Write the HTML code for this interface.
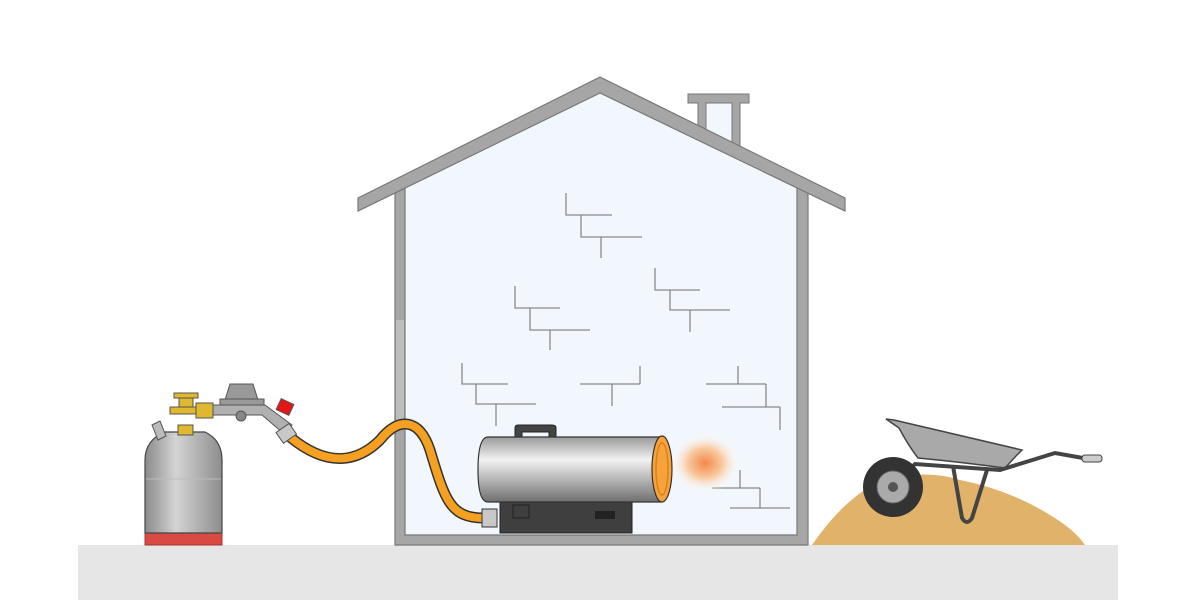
<!DOCTYPE html>
<html><head><style>html,body{margin:0;padding:0;background:#fff;}svg{display:block}</style></head>
<body>
<svg width="1200" height="600" viewBox="0 0 1200 600" xmlns="http://www.w3.org/2000/svg">
<defs>
<linearGradient id="cyl" x1="0" y1="0" x2="0" y2="1">
<stop offset="0" stop-color="#9a9a9a"/><stop offset="0.35" stop-color="#f2f2f2"/><stop offset="1" stop-color="#6f6f6f"/></linearGradient>
<linearGradient id="tank" x1="0" y1="0" x2="1" y2="0">
<stop offset="0" stop-color="#8a8a8a"/><stop offset="0.4" stop-color="#d4d4d4"/><stop offset="1" stop-color="#8d8d8d"/></linearGradient>
<radialGradient id="flame" cx="0.5" cy="0.5" r="0.5">
<stop offset="0" stop-color="#f28a4a"/><stop offset="0.5" stop-color="#f9c9a0"/><stop offset="1" stop-color="#fff" stop-opacity="0"/></radialGradient>
</defs>
<rect x="78" y="545" width="1040" height="55" fill="#e6e6e6"/>
<polygon points="405,186 600,91 797,186 797,535 405,535" fill="#f1f7fc"/>
<rect x="698" y="103" width="42" height="40" fill="#f1f7fc"/>
<path d="M688,94 H749 V103 H740 V150 L732,146 V103 H706 V135 L698,130 V103 H688 Z" fill="#a6a6a6" stroke="#777" stroke-width="1"/>
<polygon points="395,186 405,186 405,535 797,535 797,186 808,186 808,545 395,545" fill="#a6a6a6" stroke="#777" stroke-width="1.2"/>
<polygon points="358,198 600,77 845,198 845,211 600,93 358,211" fill="#a6a6a6" stroke="#777" stroke-width="1.2"/>
<rect x="396" y="320" width="8" height="110" fill="#bdbdbd"/>
<g stroke="#8a8a8a" stroke-width="1.3" fill="none">
<path d="M566,193 V215 H612 M581,215 V237 H642 M601,237 V258"/>
<path d="M655,268 V290 H700 M670,290 V310 H730 M690,310 V332"/>
<path d="M515,286 V308 H560 M530,308 V330 H590 M550,330 V350"/>
<path d="M462,363 V384 H508 M476,384 V404 H536 M496,404 V426"/>
<path d="M580,384 H640 M612,384 V406 M640,366 V384"/>
<path d="M706,384 H766 M738,366 V384 M722,407 H780 M766,384 V407 M780,407 V430"/>
<path d="M712,488 H760 M740,470 V488 M730,508 H790 M760,488 V508"/>
</g>
<ellipse cx="705" cy="463" rx="35" ry="30" fill="url(#flame)"/>
<path d="M515,438 V428 Q515,425 518,425 H552 Q556,425 556,428 V438 H549 V432 H522 V438 Z" fill="#444" stroke="#222"/>
<rect x="500" y="493" width="132" height="40" fill="#3f3f3f" stroke="#222"/>
<rect x="513" y="505" width="16" height="13" fill="none" stroke="#222"/>
<rect x="595" y="511" width="20" height="8" fill="#222"/>
<path d="M488,437 H662 V502 H488 Q478,502 478,470 Q478,437 488,437 Z" fill="url(#cyl)" stroke="#333" stroke-width="1.2"/>
<ellipse cx="662" cy="469" rx="10" ry="33" fill="#f7a23a" stroke="#333" stroke-width="1.2"/>
<ellipse cx="662" cy="469" rx="6" ry="26" fill="none" stroke="#d98419" stroke-width="1.5"/>
<path d="M290,437 C330,470 360,460 380,440 C400,415 420,420 430,450 C445,500 450,518 484,518" fill="none" stroke="#333" stroke-width="11"/>
<path d="M290,437 C330,470 360,460 380,440 C400,415 420,420 430,450 C445,500 450,518 484,518" fill="none" stroke="#f5a020" stroke-width="8"/>
<rect x="482" y="509" width="15" height="18" fill="#c8c8c8" stroke="#333"/>
<rect x="145" y="532" width="77" height="13" fill="#d84a42" stroke="#a33"/>
<path d="M145,533 V460 Q145,440 165,432 H205 Q222,440 222,460 V533 Z" fill="url(#tank)" stroke="#444" stroke-width="1.2"/>
<line x1="146" y1="479" x2="221" y2="479" stroke="#bbb"/>
<path d="M152,425 L160,421 L166,436 L158,440 Z" fill="#bbb" stroke="#555"/>
<rect x="178" y="425" width="15" height="10" fill="#e0b830" stroke="#555"/>
<rect x="170" y="407" width="28" height="7" fill="#e0b830" stroke="#555"/>
<rect x="179" y="396" width="14" height="11" fill="#e0b830" stroke="#555"/>
<rect x="174" y="393" width="24" height="5" fill="#e0b830" stroke="#555"/>
<rect x="196" y="403" width="17" height="15" fill="#e0b830" stroke="#555"/>
<path d="M213,405 H265 L292,425 L283,433 L262,415 H213 Z" fill="#b0b0b0" stroke="#555"/>
<path d="M225,400 L230,384 H253 L258,400 Z" fill="#999" stroke="#555"/>
<rect x="220" y="399" width="44" height="6" fill="#999" stroke="#555"/>
<circle cx="241" cy="416" r="5" fill="#888" stroke="#555"/>
<rect x="278" y="401" width="14" height="12" fill="#e01818" stroke="#555" transform="rotate(25 285 407)"/>
<rect x="278" y="427" width="16" height="13" fill="#c8c8c8" stroke="#555" transform="rotate(-35 286 433)"/>
<path d="M812,545 Q850,490 890,478 Q930,470 960,480 Q1010,490 1050,515 Q1075,530 1085,545 Z" fill="#e0b26a"/>
<path d="M886,419 L894,420 L1022,450 L1016,456 L1005,468 Q960,462 918,458 Q908,445 899,428 Z" fill="#a9a9a9" stroke="#444" stroke-width="1.5"/>
<path d="M893,487 L915,464 L1000,470 L1055,453 L1083,458" fill="none" stroke="#444" stroke-width="4"/>
<path d="M953,466 L962,518 Q967,526 972,518 L987,470" fill="none" stroke="#444" stroke-width="4"/>
<rect x="1082" y="455" width="20" height="7" rx="3" fill="#ccc" stroke="#444"/>
<circle cx="893" cy="487" r="30" fill="#333"/>
<circle cx="893" cy="487" r="16" fill="#aaa" stroke="#666"/>
<circle cx="893" cy="487" r="5" fill="#555"/>
</svg>
</body></html>
